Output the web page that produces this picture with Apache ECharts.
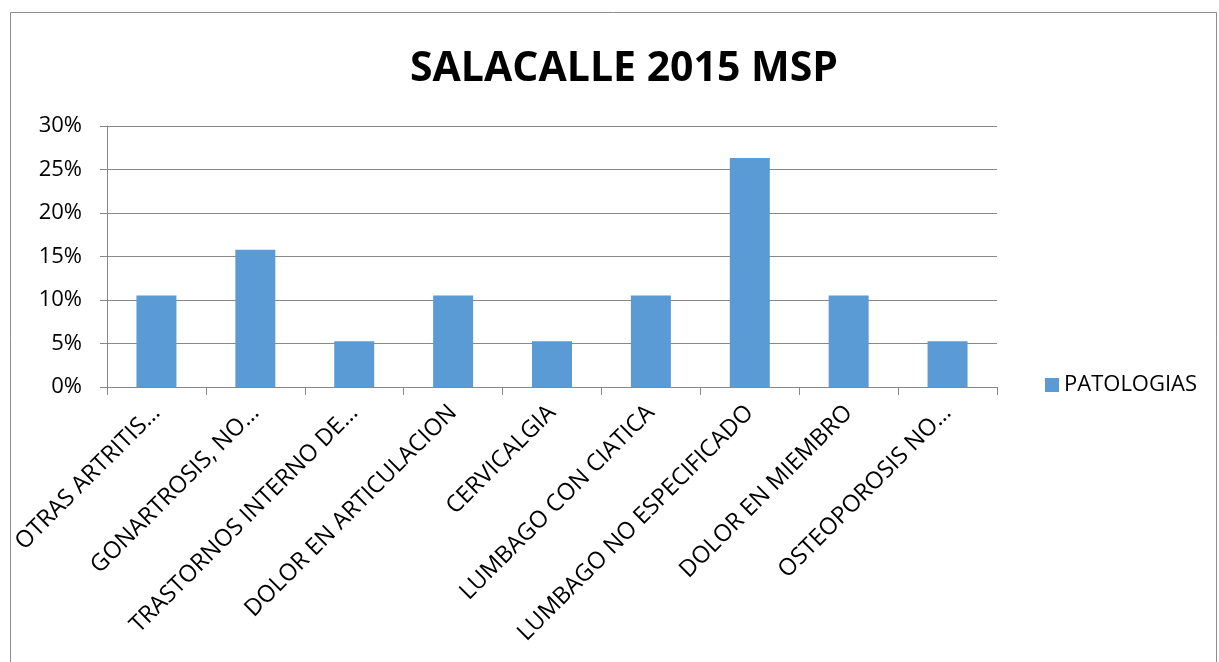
<!DOCTYPE html>
<html>
<head>
<meta charset="utf-8">
<script src="https://cdn.jsdelivr.net/npm/echarts@6/dist/echarts.min.js"></script>
<style>
  html, body { margin: 0; padding: 0; background: #fff; }
  #chart-container { width: 1219px; height: 662px; }
</style>
</head>
<body>
<div id="chart-container"></div>
<script>
var categories = [
    'OTRAS ARTRITIS…',
    'GONARTROSIS, NO…',
    'TRASTORNOS INTERNO DE…',
    'DOLOR EN ARTICULACION',
    'CERVICALGIA',
    'LUMBAGO CON CIATICA',
    'LUMBAGO NO ESPECIFICADO',
    'DOLOR EN MIEMBRO',
    'OSTEOPOROSIS NO…'
];
var patologias = [0.1053, 0.1579, 0.0526, 0.1053, 0.0526, 0.1053, 0.2632, 0.1053, 0.0526];

var font = 'Open Sans';

var dom = document.getElementById('chart-container');
var myChart = echarts.init(dom, null, {renderer: 'canvas'});

var option = {
    animation: false,
    title: {
        text: 'SALACALLE 2015 MSP',
        left: 405,
        top: 44,
        textStyle: {
            fontFamily: font,
            fontSize: 41,
            fontWeight: 'bold',
            color: '#000'
        }
    },
    graphic: [{
        type: 'rect',
        shape: {x: 10.5, y: 12.5, width: 1206, height: 700},
        style: {fill: 'none', stroke: '#8c8c8c', lineWidth: 1},
        silent: true
    }],
    legend: {
        data: ['PATOLOGIAS'],
        left: 1040,
        top: 369,
        itemWidth: 14,
        itemHeight: 14,
        itemGap: 8,
        icon: 'rect',
        textStyle: {fontFamily: font, fontSize: 22, color: '#000'}
    },
    grid: {
        left: 107,
        top: 126,
        width: 890,
        height: 261
    },
    xAxis: {
        type: 'category',
        data: categories,
        axisLine: {lineStyle: {color: '#888'}},
        axisTick: {show: true, alignWithLabel: false, length: 8, lineStyle: {color: '#888'}},
        axisLabel: {
            rotate: 45,
            interval: 0,
            fontFamily: font,
            fontSize: 23.5,
            color: '#000',
            margin: 22
        }
    },
    yAxis: {
        type: 'value',
        min: 0,
        max: 0.3,
        interval: 0.05,
        axisLine: {show: true, lineStyle: {color: '#888'}},
        axisTick: {show: true, length: 7, lineStyle: {color: '#888'}},
        splitLine: {lineStyle: {color: '#888'}},
        axisLabel: {
            fontFamily: font,
            fontSize: 22,
            color: '#000',
            margin: 25,
            formatter: function (v) {
                return Math.round(v * 100) + '%';
            }
        }
    },
    series: [{
        name: 'PATOLOGIAS',
        type: 'bar',
        data: patologias,
        barWidth: 40,
        itemStyle: {color: '#5B9BD5'}
    }]
};

myChart.setOption(option);
window.addEventListener('resize', myChart.resize);
</script>
</body>
</html>
